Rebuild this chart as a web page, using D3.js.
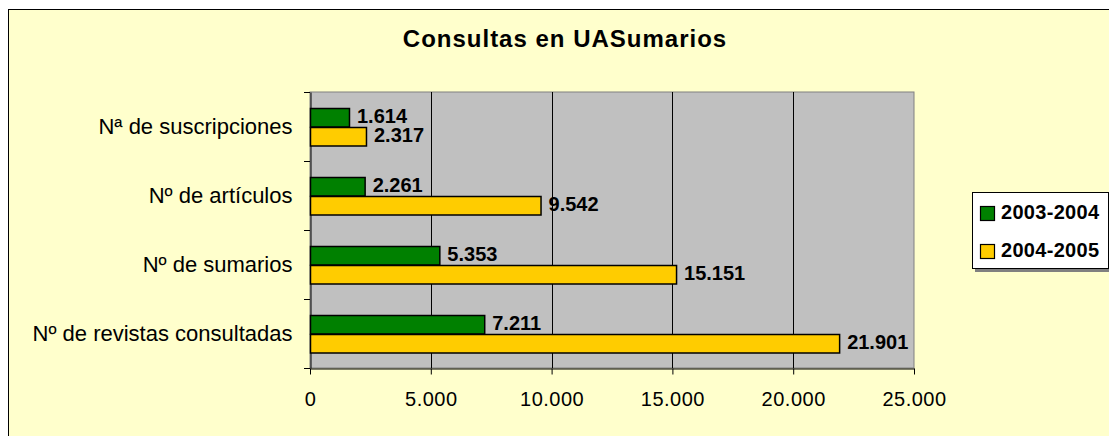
<!DOCTYPE html>
<html><head><meta charset="utf-8">
<script src="https://cdn.jsdelivr.net/npm/d3@7"></script>
<style>body{margin:0;background:#fff;}svg{display:block;font-family:"Liberation Sans",Arial,sans-serif;}</style>
</head><body>
<svg id="c" width="1109" height="436"></svg>
<script>
const categories = ["Nª de suscripciones", "Nº de artículos", "Nº de sumarios", "Nº de revistas consultadas"];
const seriesNames = ["2003-2004", "2004-2005"];
const values2003 = [1614, 2261, 5353, 7211];
const values2004 = [2317, 9542, 15151, 21901];
const xTicks = [0, 5000, 10000, 15000, 20000, 25000];
const colors = ["#008000", "#FFCC00"];
const title = "Consultas en UASumarios";

const svg = d3.select("#c");
const fmt = v => d3.format(",")(v).replace(/,/g, ".");
const FF = "Liberation Sans, Arial, sans-serif";

svg.append("rect").attr("x", 8.5).attr("y", 9.5).attr("width", 1120).attr("height", 440)
  .attr("fill", "#FFFFCC").attr("stroke", "#000").attr("stroke-width", 1);

svg.append("text").attr("x", 565).attr("y", 47).attr("text-anchor", "middle")
  .attr("font-size", 24).attr("font-weight", "bold").attr("letter-spacing", 1).text(title);

const L = 310, R = 914, T = 92, B = 368;
const x = d3.scaleLinear().domain([0, 25000]).range([L, R]);
const y = d3.scaleBand().domain(categories).range([T, B]);

svg.append("rect").attr("x", L).attr("y", T).attr("width", R - L).attr("height", B - T)
  .attr("fill", "#C0C0C0").attr("stroke", "#808080").attr("stroke-width", 1);

const g = svg.append("g");
g.selectAll("line.grid").data(xTicks.slice(1, -1)).join("line")
  .attr("x1", d => Math.round(x(d)) + 0.5).attr("x2", d => Math.round(x(d)) + 0.5)
  .attr("y1", T).attr("y2", B).attr("stroke", "#000").attr("stroke-width", 1);

// axes
const xAxis = d3.axisBottom(x).tickValues(xTicks).tickFormat(fmt).tickSizeInner(6).tickSizeOuter(0).tickPadding(17);
const ax = svg.append("g").attr("transform", `translate(0,${B + 0.5})`).call(xAxis);
ax.select(".domain").attr("stroke", "#000");
ax.selectAll(".tick line").attr("stroke", "#000");
ax.selectAll("text").attr("font-size", 20).attr("fill", "#000").attr("font-family", FF).attr("letter-spacing", 0.5);

const yAxis = d3.axisLeft(y).tickSize(0).tickPadding(18);
const ay = svg.append("g").attr("transform", `translate(${L + 0.5},0)`).call(yAxis);
ay.select(".domain").attr("stroke", "#000");
ay.selectAll("text").attr("font-size", 22).attr("fill", "#000").attr("font-family", FF);
// category boundary ticks
const bounds = categories.map(c => y(c)).concat([B]);
svg.selectAll("line.bt").data(bounds).join("line")
  .attr("x1", L - 6).attr("x2", L).attr("y1", d => Math.round(d) + 0.5).attr("y2", d => Math.round(d) + 0.5)
  .attr("stroke", "#000");

// bars
const bh = 18.5;
const series = [values2003, values2004];
series.forEach((vals, si) => {
  const grp = svg.append("g");
  const by = c => Math.round(y(c) + y.bandwidth() / 2 - bh + si * bh) + 0.5;
  grp.selectAll("rect").data(categories).join("rect")
    .attr("x", L + 0.5)
    .attr("y", by)
    .attr("width", (c, i) => x(vals[i]) - L)
    .attr("height", bh)
    .attr("fill", colors[si]).attr("stroke", "#000").attr("stroke-width", 1.5);
  grp.selectAll("text").data(categories).join("text")
    .attr("x", (c, i) => x(vals[i]) + 8)
    .attr("y", (c) => by(c) + bh / 2 + 5)
    .attr("font-size", 20).attr("font-weight", "bold").text((c, i) => fmt(vals[i]));
});

// legend
const lg = svg.append("g");
lg.append("rect").attr("x", 975).attr("y", 195).attr("width", 136).attr("height", 77).attr("fill", "#808080");
lg.append("rect").attr("x", 972.5).attr("y", 192.5).attr("width", 136).attr("height", 76)
  .attr("fill", "#fff").attr("stroke", "#000");
seriesNames.forEach((s, i) => {
  const yy = 206 + i * 38;
  lg.append("rect").attr("x", 980.5).attr("y", yy + 0.5).attr("width", 14).attr("height", 14)
    .attr("fill", colors[i]).attr("stroke", "#000").attr("stroke-width", 1.2);
  lg.append("text").attr("x", 1001).attr("y", yy + 12.5).attr("font-size", 20).attr("font-weight", "bold")
    .attr("letter-spacing", 0.3).text(s);
});
</script>
</body></html>
